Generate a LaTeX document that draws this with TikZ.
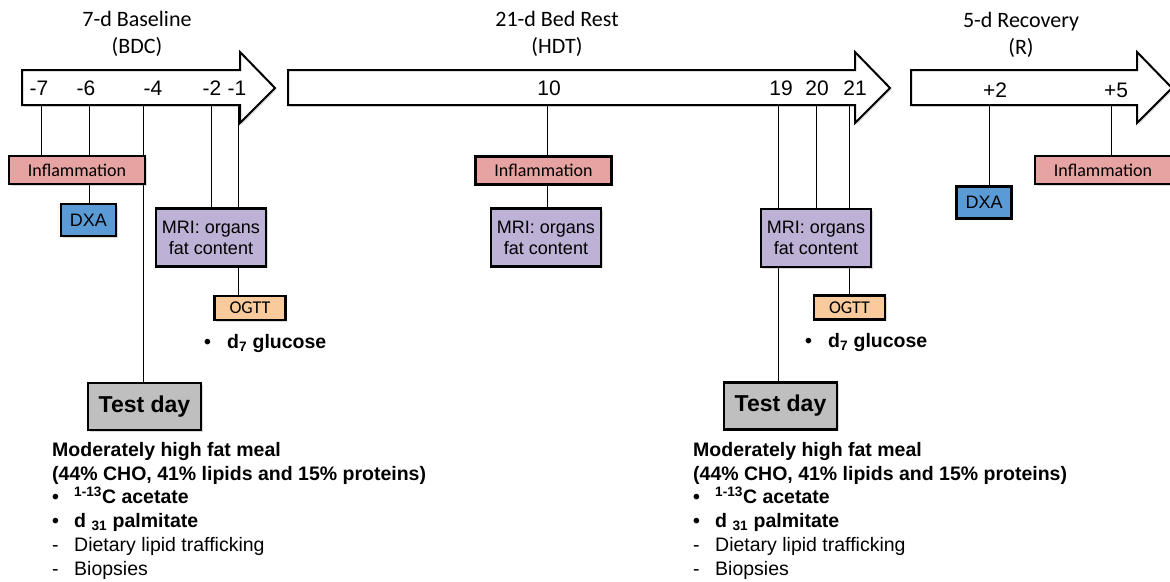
\documentclass[tikz,border=0pt]{standalone}
\usepackage{fontspec}
\setmainfont{Liberation Sans}
\newfontfamily\calfont{Carlito}
\usetikzlibrary{shadows,backgrounds}

\definecolor{inflpink}{HTML}{E6A3A1}
\definecolor{dxablue}{HTML}{5B9BD5}
\definecolor{mrililac}{HTML}{BEB1D6}
\definecolor{ogttpeach}{HTML}{F9CB9C}
\definecolor{testgray}{HTML}{BFBFBF}

\begin{document}
\begin{tikzpicture}[x=1pt, y=-1pt,
    phase/.style = {draw, line width=2pt, fill=white,
                    drop shadow={opacity=0.3, shadow xshift=1.5pt, shadow yshift=-1.5pt}},
    box/.style = {draw, line width=2.2pt, inner sep=0pt, align=center,
                  drop shadow={opacity=0.3, shadow xshift=1.5pt, shadow yshift=-1.5pt}},
    inflbox/.style = {box, fill=inflpink, minimum width=136pt, minimum height=28pt,
                      font=\calfont\fontsize{18}{20}\selectfont},
    dxabox/.style = {box, fill=dxablue, minimum width=55pt, minimum height=32pt,
                     font=\fontsize{18}{20}\selectfont},
    mribox/.style = {box, fill=mrililac, minimum width=110pt, minimum height=58pt,
                     font=\fontsize{18}{21}\selectfont},
    ogttbox/.style = {box, fill=ogttpeach, minimum width=71pt, minimum height=24pt,
                      font=\calfont\fontsize{18}{20}\selectfont},
    testbox/.style = {box, fill=testgray, minimum width=113pt, minimum height=47pt,
                      font=\bfseries\fontsize{23}{26}\selectfont},
    daylbl/.style = {font=\fontsize{21}{24}\selectfont, inner sep=0pt, anchor=base},
    phaselbl/.style = {font=\calfont\fontsize{22}{27}\selectfont, align=center, inner sep=0pt},
    link/.style = {line width=1.6pt},
    meal/.style = {font=\fontsize{19.5}{23.8}\selectfont, align=left, inner sep=0pt, anchor=north west}]

    \useasboundingbox (0,0) rectangle (1170,581);
    \clip (0,0) rectangle (1170,581);

    % the three phases
    \draw[phase] (22,70) -- (240,70) -- (240,52) -- (275,88) -- (240,123) -- (240,105) -- (22,105) -- cycle;
    \draw[phase] (288,70) -- (855,70) -- (855,52) -- (890,88) -- (855,123) -- (855,105) -- (288,105) -- cycle;
    \draw[phase] (911,70) -- (1137,70) -- (1137,52) -- (1172,88) -- (1137,123) -- (1137,105) -- (911,105) -- cycle;

    \node[phaselbl] (bdc) at (137,34) {7-d Baseline\\(BDC)};
    \node[phaselbl] (hdt) at (557,34) {21-d Bed Rest\\(HDT)};
    \node[phaselbl] (rec) at (1021,35) {5-d Recovery\\(R)};

    % days
    \foreach \nm/\x/\t in {m7/39/-7, m6/86/-6, m4/153/-4, m2/212/-2, m1/237/-1,
                           p10/549/10, p19/781/19, p20/817/20, p21/855/21}
        \node[daylbl] (d\nm) at (\x,95) {\t};
    \node[daylbl] (dr2) at (995,97) {+2};
    \node[daylbl] (dr5) at (1116,97) {+5};

    \foreach \nm/\x in {m7/41, m6/89, m4/143, m2/211, m1/238,
                        p10/547, p19/778, p20/816, p21/849, r2/989, r5/1111}
        \coordinate (t\nm) at (\x,105);

    % measurements
    \node[inflbox] (infl1) at (77,170) {Inflammation};
    \node[dxabox] (dxa1) at (88.5,220) {DXA};
    \node[mribox] (mri1) at (211,237.5) {MRI: organs\\fat content};
    \node[ogttbox] (ogtt1) at (250,308) {OGTT};
    \node[testbox] (test1) at (144.5,406.5) {Test day};

    \node[inflbox] (infl2) at (543.5,170.5) {Inflammation};
    \node[mribox] (mri2) at (546,237.5) {MRI: organs\\fat content};
    \node[mribox] (mri3) at (816,238) {MRI: organs\\fat content};
    \node[ogttbox] (ogtt2) at (849.5,307.5) {OGTT};
    \node[testbox] (test2) at (780.5,406) {Test day};

    \node[dxabox] (dxa3) at (984,202.5) {DXA};
    \node[inflbox] (infl3) at (1103,170) {Inflammation};

    \begin{scope}[on background layer, link]
        \draw (tm7) -- (tm7 |- infl1.north);
        \draw (tm6) -- (tm6 |- infl1.north);
        \draw (tm6 |- infl1.south) -- (tm6 |- dxa1.north);
        \draw (tm4) -- (tm4 |- test1.north);
        \draw (tm2) -- (tm2 |- mri1.north);
        \draw (tm1) -- (tm1 |- mri1.north);
        \draw (tm1 |- mri1.south) -- (tm1 |- ogtt1.north);

        \draw (tp10) -- (tp10 |- infl2.north);
        \draw (tp10 |- infl2.south) -- (tp10 |- mri2.north);
        \draw (tp19) -- (tp19 |- mri3.north);
        \draw (tp20) -- (tp20 |- mri3.north);
        \draw (tp21) -- (tp21 |- mri3.north);
        \draw (tp19 |- mri3.south) -- (tp19 |- test2.north);
        \draw (tp21 |- mri3.south) -- (tp21 |- ogtt2.north);

        \draw (tr2) -- (tr2 |- dxa3.north);
        \draw (tr5) -- (tr5 |- infl3.north);
    \end{scope}

    % tracers and test day meal
    \node[meal, anchor=base west] (gluc1) at (204,348)
        {\bfseries\makebox[23pt][l]{\textbullet}d\textsubscript{7} glucose};
    \node[meal, anchor=base west] (gluc2) at (805,347)
        {\bfseries\makebox[23pt][l]{\textbullet}d\textsubscript{7} glucose};

    \foreach \m/\x in {1/52, 2/693}
        \node[meal] (meal\m) at (\x,442)
            {{\bfseries Moderately high fat meal}\\
             {\bfseries (44\% CHO, 41\% lipids and 15\% proteins)}\\
             {\bfseries\makebox[22pt][l]{\textbullet}\textsuperscript{1-13}C acetate}\\
             {\bfseries\makebox[22pt][l]{\textbullet}d \textsubscript{31} palmitate}\\
             \makebox[22pt][l]{-}Dietary lipid trafficking\\
             \makebox[22pt][l]{-}Biopsies};
\end{tikzpicture}
\end{document}
